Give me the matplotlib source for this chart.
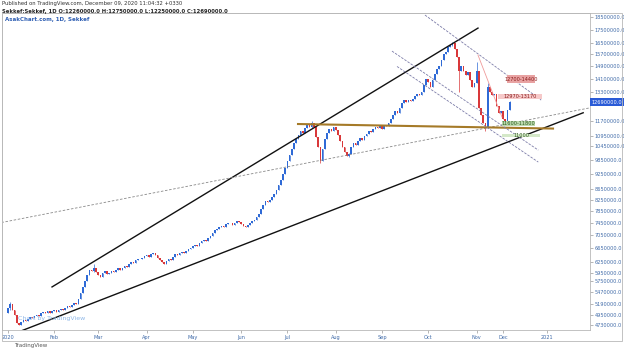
import matplotlib
matplotlib.use("Agg")
from matplotlib import pyplot as plt
from matplotlib.ticker import FixedLocator, FixedFormatter, NullLocator
from matplotlib.patches import Rectangle
import matplotlib.transforms as mtransforms
import numpy as np

# daily closes in millions, one value per trading bar (Jan 1 -> Dec 9 2020)
jan = [5.10, 5.20, 5.05, 4.95, 4.78, 4.74, 4.80, 4.84, 4.82, 4.86, 4.90, 4.88, 4.92, 4.95, 4.93,
       4.98, 5.02, 5.00, 5.04, 4.99, 5.03]
feb = [5.06, 5.02, 5.05, 5.08, 5.05, 5.10, 5.14, 5.12, 5.18, 5.22, 5.20, 5.30, 5.45, 5.60, 5.75,
       5.90, 6.05, 6.00, 6.10, 5.98]
mar = [5.90, 5.85, 5.95, 6.00, 5.93, 5.97, 6.02, 5.98, 6.05, 6.08, 6.03, 6.10, 6.15, 6.12, 6.20,
       6.25, 6.22, 6.30, 6.35, 6.33, 6.38, 6.42]
apr = [6.45, 6.40, 6.47, 6.50, 6.44, 6.38, 6.30, 6.25, 6.20, 6.28, 6.35, 6.32, 6.40, 6.48, 6.45,
       6.52, 6.55, 6.50, 6.58, 6.62, 6.66]
may = [6.70, 6.75, 6.72, 6.80, 6.85, 6.90, 6.88, 6.95, 7.02, 7.10, 7.20, 7.25, 7.30, 7.35, 7.32,
       7.40, 7.45, 7.42, 7.38, 7.45, 7.50, 7.48]
jun = [7.40, 7.35, 7.30, 7.38, 7.45, 7.50, 7.55, 7.62, 7.75, 7.90, 8.05, 8.20, 8.15, 8.25, 8.35,
       8.45, 8.60, 8.80, 9.00, 9.25, 9.50]
jul = [9.80, 10.05, 10.30, 10.60, 10.80, 11.00, 11.20, 11.10, 11.35, 11.50, 11.40, 11.60, 11.40,
       10.90, 10.40, 9.80, 10.30, 10.80, 11.10, 11.30, 11.20, 11.40]
aug = [11.25, 11.00, 10.70, 10.40, 10.20, 10.00, 10.10, 10.40, 10.60, 10.50, 10.70, 10.85, 10.75,
       10.95, 11.05, 11.20, 11.15, 11.30, 11.40, 11.35, 11.45]
sep = [11.30, 11.50, 11.45, 11.60, 11.80, 12.00, 12.20, 12.10, 12.40, 12.65, 12.80, 12.70, 12.85,
       12.75, 12.90, 13.05, 13.15, 13.10, 13.30, 13.70, 14.10]
oct_ = [13.90, 13.60, 14.00, 14.40, 14.70, 14.90, 15.30, 15.70, 15.90, 16.20, 16.40, 16.50, 16.10,
        15.50, 14.60, 14.90, 14.60, 14.30, 14.50, 14.00, 13.60, 13.80]
nov = [14.60, 12.40, 12.00, 11.60, 11.40, 13.60, 13.30, 13.10, 13.20, 12.50, 12.10, 12.20, 11.80]
dec = [11.70, 12.26, 12.69]
first_open = 5.00

# bars with visible wicks beyond the body: index -> (high, low)
wicks = {1: (5.25, 5.05), 39: (6.20, 5.98), 138: (11.70, 11.35), 142: (10.40, 9.70),
         155: (10.15, 9.95), 202: (16.55, 16.30), 205: (15.50, 13.30), 213: (15.20, 13.80),
         217: (11.60, 11.20), 218: (13.80, 11.40), 226: (11.80, 11.55), 228: (12.75, 12.25)}

month_start = [0, 21, 41, 63, 84, 106, 127, 149, 170, 191, 213, 225, 245]
month_names = ["2020", "Feb", "Mar", "Apr", "May", "Jun", "Jul", "Aug", "Sep", "Oct", "Nov",
               "Dec", "2021"]

price_ticks = [18500000, 17500000, 16500000, 15700000, 14900000, 14100000, 13300000, 11700000,
               10950000, 10450000, 9850000, 9250000, 8650000, 8250000, 7850000, 7450000,
               7050000, 6650000, 6250000, 5950000, 5750000, 5470000, 5190000, 4950000, 4730000]
last_price = 12690000

# drawing anchors: (bar index, price in millions)
upper_line = [(20, 5.60), (213.6, 17.64)]
lower_line = [(5.5, 4.60), (261.4, 12.12)]
dashed_line = [(-3, 7.45), (265, 12.40)]
support_line = [(131.8, 11.53), (247.7, 11.30)]
chan_top = [(189.5, 18.69), (242.3, 12.82)]
chan_mid = [(174.5, 15.93), (241, 10.27)]
chan_low = [(176.8, 14.88), (241, 9.74)]
down_trend = [(213.6, 15.65), (224.5, 11.89)]

# zones: x0, x1, low, high (millions), label, face, text colour
zones = [(226.7, 239.5, 13.81, 14.32, "12700-14400", "#e8a2a2", "#8a1c1c"),
         (222.7, 242.6, 12.86, 13.15, "12970-13170", "#f6c9c9", "#8a1c1c"),
         (224.4, 239.5, 11.43, 11.70, "11600-11800", "#bcd9ae", "#2c5a1c"),
         (224.4, 241.8, 10.87, 11.01, "11000", "#d4e8c8", "#2c5a1c")]

closes = np.array(jan + feb + mar + apr + may + jun + jul + aug + sep + oct_ + nov + dec) * 1e6
opens = np.concatenate([[first_open * 1e6], closes[:-1]])
idx = np.arange(len(closes))
highs = np.maximum(opens, closes)
lows = np.minimum(opens, closes)
for i, (h, l) in wicks.items():
    highs[i] = h * 1e6
    lows[i] = l * 1e6

up_col = '#2f6ad6'
dn_col = '#d9383a'
cols = np.where(closes >= opens, up_col, dn_col)

fig = plt.figure(figsize=(6.24, 3.53), dpi=100)
ax = fig.add_axes([2/624, 23/353, 588/624, 317/353])
ax.set_yscale('log')
ax.set_ylim(4.627e6, 18.86e6)
ax.set_xlim(-2.73, 264.5)

ax.vlines(idx, lows, highs, colors=cols, lw=0.5)
body = np.maximum(np.abs(closes - opens), opens * 0.003)
ax.bar(idx, body, bottom=np.minimum(opens, closes), width=0.75, color=cols, lw=0)

def seg(pts, **kw):
    xs = [p[0] for p in pts]
    ys = [p[1] * 1e6 for p in pts]
    ax.plot(xs, ys, **kw)

seg(upper_line, color='#111111', lw=1.0)
seg(lower_line, color='#111111', lw=1.0)
seg(dashed_line, color='#888888', lw=0.6, ls=(0, (3, 2)))
seg(support_line, color='#a57a28', lw=1.5)
for ch in (chan_top, chan_mid, chan_low):
    seg(ch, color='#7c7ca8', lw=0.6, ls=(0, (3, 1.5)))
seg(down_trend, color='#ef9a9a', lw=0.6)

for x0, x1, lo, hi, lab, fc, tc in zones:
    ax.add_patch(Rectangle((x0, lo * 1e6), x1 - x0, (hi - lo) * 1e6, fc=fc, ec='none', zorder=3))
    xm = (x0 + x1) / 2 if lab != "11000" else x0 + 9
    ax.text(xm, np.sqrt(lo * hi) * 1e6, lab, fontsize=3.6, color=tc, ha='center', va='center',
            zorder=4)

for s in ax.spines.values():
    s.set_color('#b8b8b8')
    s.set_linewidth(0.6)

ax.yaxis.tick_right()
ax.yaxis.set_major_locator(FixedLocator(price_ticks))
ax.yaxis.set_major_formatter(FixedFormatter(["%.1f" % v for v in price_ticks]))
ax.yaxis.set_minor_locator(NullLocator())
ax.tick_params(axis='y', labelsize=3.6, labelcolor='#3f6aa8', color='#999999', length=2,
               width=0.5, pad=1.5)
ax.set_xticks(month_start)
ax.set_xticklabels(month_names)
ax.xaxis.set_minor_locator(NullLocator())
ax.tick_params(axis='x', labelsize=3.6, labelcolor='#3f6aa8', color='#999999', length=2,
               width=0.5, pad=1.5)

trans = mtransforms.blended_transform_factory(ax.transAxes, ax.transData)
ax.text(1.003, last_price, "%.1f" % last_price, transform=trans, fontsize=3.6, color='white',
        va='center', ha='left', clip_on=False,
        bbox=dict(boxstyle='square,pad=0.3', fc='#2a5bd7', ec='none'))

ax.text(0.005, 0.978, "AsakChart.com, 1D, Sekkef", transform=ax.transAxes, fontsize=4,
        color='#2f5fb3', weight='bold', va='center')
ax.text(0.028, 0.035, "Chart by TradingView", transform=ax.transAxes, fontsize=4.5,
        color='#8fb8e8', va='center')

fig.text(2/624, 1 - 4/353, "Published on TradingView.com, December 09, 2020 11:04:32 +0330",
         fontsize=3.8, color='#333333', va='center')
fig.text(2/624, 1 - 11/353,
         "Sekkef:Sekkef, 1D O:12260000.0 H:12750000.0 L:12250000.0 C:12690000.0",
         fontsize=3.8, color='#222222', weight='bold', va='center')
fig.text(14/624, 1 - 346/353, "TradingView", fontsize=4, color='#555555', va='center')
fig.patches.append(Rectangle((2/624, 12/353), 620/624, 328/353, transform=fig.transFigure,
                             fill=False, ec='#b8b8b8', lw=0.6))

plt.savefig("out.png", dpi=100)
